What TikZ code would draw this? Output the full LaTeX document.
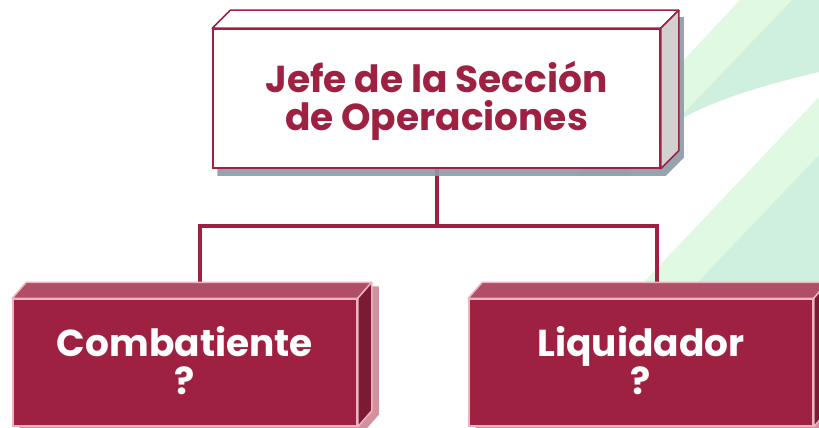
\documentclass[tikz,border=0pt]{standalone}
\usepackage{fontspec}
\setmainfont{Poppins}
\usetikzlibrary{backgrounds}
\definecolor{guinda}{HTML}{9E2141}
\definecolor{guindaclaro}{HTML}{B04E66}
\definecolor{guindaosc}{HTML}{7D1A33}
\definecolor{rosa}{HTML}{EDB3C0}
\definecolor{rosasombra}{HTML}{D3909E}
\definecolor{grisclaro}{HTML}{D1D1D1}
\definecolor{sombra}{HTML}{8D99A7}
\definecolor{verde}{HTML}{DFF9E2}
\definecolor{verdeosc}{HTML}{D0F0DF}
\begin{document}
\begin{tikzpicture}[x=1pt,y=-1pt,
    caja/.style={rectangle,inner sep=0pt,align=center,line width=1.5,text height=72,text depth=9,
        font=\fontsize{37.5}{38}\selectfont\bfseries},
    jefecaja/.style={caja,draw=guinda,fill=white,text=guinda,minimum width=447,minimum height=139},
    puesto/.style={caja,draw=rosa,fill=guinda,text=white,minimum width=344,minimum height=127},
    linea/.style={draw=guinda,line width=4}]
\useasboundingbox (0,0) rectangle (819,428);
\node[jefecaja] (jefe) at (436.5,98.5) {Jefe de la Sección\\ de Operaciones};
\node[puesto] (comb) at (185,362.5) {Combatiente\\ ?};
\node[puesto] (liq) at (641,362.5) {Liquidador\\ ?};
\coordinate (bus) at (jefe.south |- 0,226);
\begin{scope}[on background layer]
    \fill[verde] (740,0) -- (792,0) -- (627,176) -- (575,176) -- cycle;
    \fill[verdeosc] (792,0) -- (819,0) -- (819,72) .. controls (760,86) and (715,100) .. (683,118) -- (670,128) -- cycle;
    \fill[verde] (819,97) -- (643,283) -- (506,428) -- (819,428) -- cycle;
    \fill[verdeosc] (819,155) -- (559,428) -- (819,428) -- cycle;
    \draw[linea] (jefe.south) -- (bus);
    \draw[linea] ([xshift=15]comb.north) |- (bus) -| ([xshift=16]liq.north);
    \fill[sombra,fill opacity=0.9] ([shift={(5,7)}]jefe.north west) -- ++(18,-18) -- ([shift={(23,-11)}]jefe.north east)
        -- ([shift={(23,-11)}]jefe.south east) -- ([shift={(5,7)}]jefe.south east) -- ([shift={(5,7)}]jefe.south west) -- cycle;
    \foreach \n in {comb,liq}
        \fill[rosasombra] ([shift={(7,4)}]\n.north west) -- ++(14,-16) -- ([shift={(21,-12)}]\n.north east)
            -- ([shift={(21,-12)}]\n.south east) -- ([shift={(7,4)}]\n.south east) -- ([shift={(7,4)}]\n.south west) -- cycle;
\end{scope}
\filldraw[fill=white,draw=guinda,line width=1.5,line join=round] (jefe.north west) -- ++(18,-18) -- ([shift={(18,-18)}]jefe.north east) -- (jefe.north east) -- cycle;
\filldraw[fill=grisclaro,draw=guinda,line width=1.5,line join=round] (jefe.north east) -- ++(18,-18) -- ([shift={(18,-18)}]jefe.south east) -- (jefe.south east) -- cycle;
\foreach \n in {comb,liq} {
    \filldraw[fill=guindaclaro,draw=rosa,line width=1.5,line join=round] (\n.north west) -- ++(14,-16) -- ([shift={(14,-16)}]\n.north east) -- (\n.north east) -- cycle;
    \filldraw[fill=guindaosc,draw=rosa,line width=1.5,line join=round] (\n.north east) -- ++(14,-16) -- ([shift={(14,-16)}]\n.south east) -- (\n.south east) -- cycle;
}
\end{tikzpicture}
\end{document}
